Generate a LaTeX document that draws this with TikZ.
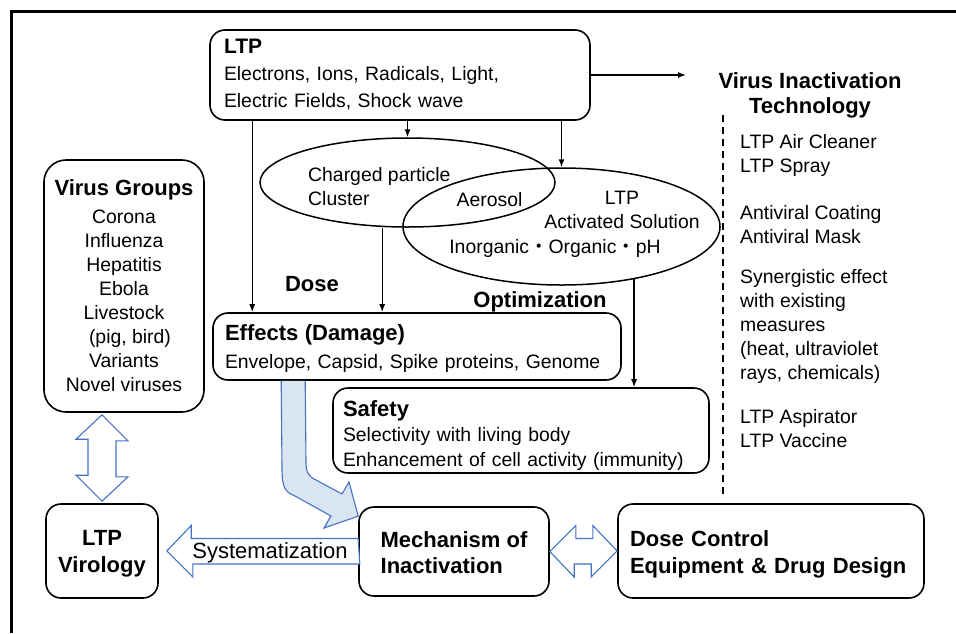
\documentclass[tikz,border=0pt]{standalone}
\usepackage{fontspec}
\setmainfont{Liberation Sans}
\newfontfamily\cjk{Noto Sans CJK JP}
\usetikzlibrary{arrows.meta,%
                shapes,positioning,calc}

\definecolor{arrblue}{HTML}{4472C4}
\definecolor{fillblue}{HTML}{DAE5F3}
\newcommand{\hd}{\fontsize{22}{26}\selectfont\bfseries}
\newcommand{\tx}{\fontsize{19.4}{24}\selectfont}

\tikzset{
  box/.style={draw, line width=1.6pt, rounded corners=15pt, inner sep=0pt, font=\tx},
  oval/.style={draw, ellipse, line width=1.5pt, inner sep=0pt},
  lbl/.style={inner sep=0pt, font=\tx},
  arr/.style={line width=1.3pt, -{Latex[length=8pt,width=6pt]}},
  blkarrow/.style={draw=arrblue, line width=1.1pt, fill=white, line join=miter},
}

\begin{document}
\begin{tikzpicture}[x=1pt,y=-1pt]
\useasboundingbox (0,0) rectangle (956,633);
%frame
\draw[line width=3pt] (11.5,633) -- (11.5,11.5) -- (956,11.5);

\node[box, minimum width=380, minimum height=90, text width=352, align=left,
      font=\fontsize{19.4}{27}\selectfont] (ltp) at (400,75)
  {{\fontsize{21}{27}\selectfont\bfseries LTP}\\Electrons, Ions, Radicals, Light,\\Electric Fields, Shock wave};
\node[box, rounded corners=22pt, minimum width=160, minimum height=252, align=center] (vg) at (124,286)
  {{\hd Virus Groups}\\[4pt]Corona\\Influenza\\Hepatitis\\Ebola\\Livestock\hspace*{13pt}\\\hspace*{12pt}(pig, bird)\\Variants\\Novel viruses};
\node[box, minimum width=408, minimum height=67, text width=384, align=left,
      font=\fontsize{19.4}{28}\selectfont] (eff) at (417,346.5)
  {{\hd\rule{0pt}{20pt}Effects (Damage)}\\Envelope, Capsid, Spike proteins, Genome};
\node[box, minimum width=376, minimum height=85, text width=356, align=left,
      font=\fontsize{19.4}{25}\selectfont] (saf) at (521,430.5)
  {{\hd\rule{0pt}{26pt}Safety}\\Selectivity with living body\\Enhancement of cell activity (immunity)};
\node[box, minimum width=112, minimum height=94, align=center, font=\fontsize{22}{27}\selectfont\bfseries] (lv) at (102,551)
  {\rule{0pt}{20pt}LTP\\Virology};
\node[box, minimum width=190, minimum height=89, align=left, font=\hd] (mech) at (454,551.5)
  {\rule{0pt}{18pt}Mechanism of\\Inactivation};
\node[box, minimum width=306, minimum height=94, text width=282, align=left, font=\fontsize{22}{27}\selectfont\bfseries] (dc) at (771,551)
  {\rule{0pt}{23pt}Dose Control\\Equipment \& Drug Design};

\node[oval, minimum width=295, minimum height=89] (cp) at (407.5,182.5) {};
\node[oval, minimum width=317, minimum height=117] (sol) at (561.5,226.5) {};
\node[lbl, align=left, anchor=west] (cptxt) at (308,187) {Charged particle\\Cluster};
\node[lbl, anchor=base] (aer) at (489.5,206) {Aerosol};
\node[lbl, align=center] (soltxt) at (622,210) {LTP\\Activated Solution};
\node[lbl, anchor=base] (inorg) at (555,253) {Inorganic{\cjk ・}Organic{\cjk ・}pH};

\node[lbl, font=\hd, anchor=base] (dose) at (312,291) {Dose};
\node[lbl, font=\hd, anchor=base] (opt) at (540,307) {Optimization};
\node[lbl, font=\fontsize{22}{25}\selectfont\bfseries, align=center] (tech) at (810,95) {Virus Inactivation\\Technology};
\node[lbl, align=left, anchor=north west] (list) at (740,134)
  {LTP Air Cleaner\\LTP Spray\\[23pt]Antiviral Coating\\Antiviral Mask\\[16pt]Synergistic effect\\with existing\\measures\\(heat, ultraviolet\\rays, chemicals)\\[20pt]LTP Aspirator\\LTP Vaccine};

%connectors
\coordinate (techin) at (686,75);
\coordinate (e1) at ($(eff.north west)+(40,0)$);
\coordinate (e2) at ($(eff.north west)+(170,0)$);
\draw[arr] (ltp.east) -- (techin);
\draw[arr] (ltp.south -| e1) -- (e1);
\draw[arr] (ltp.south -| cp.north) -- (cp.north);
\draw[arr] (ltp.south -| sol.north) -- (sol.north);
\draw[arr] (cp.south -| e2) -- (e2);
\draw[arr] (sol.-36) -- (sol.-36 |- saf.north);

\coordinate (dtop) at (723,115);
\coordinate (dbot) at (723,497);
\draw[line width=1.4pt, dash pattern=on 7pt off 5pt] (dtop) -- (dbot);

%block arrows
\coordinate (b1) at ($(eff.south west)+(69,0)$);
\coordinate (b2) at ($(eff.south west)+(93,0)$);
\coordinate (btip) at ($(mech.north west)+(0,10)$);
\filldraw[draw=arrblue, fill=fillblue, line width=1.1pt, line join=miter]
  (b1) -- (282,468) .. controls (282,488) and (285,492) .. (295,496) -- (331,516) -- (324,528)
  -- (btip) -- (349,482) -- (342,494) -- (316,480) .. controls (308,476) and (306,472) .. (306,462) -- (b2);

\coordinate (v1) at ($(lv.north |- vg.south)+(0,2)$);
\coordinate (v2) at ($(lv.north)+(0,-2)$);
\draw[blkarrow] (v1) -- ++(26,26) -- ++(-12,0) -- ++(0,36) -- ++(12,0) -- (v2)
  -- ++(-26,-26) -- ++(12,0) -- ++(0,-36) -- ++(-12,0) -- cycle;

\draw[blkarrow] (mech.east) -- ++(26,-26) -- ++(0,13) -- ++(17,0) -- ++(0,-13) -- (dc.west)
  -- ++(-26,26) -- ++(0,-13) -- ++(-17,0) -- ++(0,13) -- cycle;

\draw[blkarrow] ($(mech.west)+(0,-13)$) -- ++(-167,0) -- ++(0,-13) -- ($(lv.east)+(8,0)$)
  -- ++(26,26) -- ++(0,-13) -- ++(167,0) -- cycle;
\node[lbl, font=\fontsize{22}{26}\selectfont, anchor=base] (sys) at (270,558) {Systematization};
\end{tikzpicture}
\end{document}
